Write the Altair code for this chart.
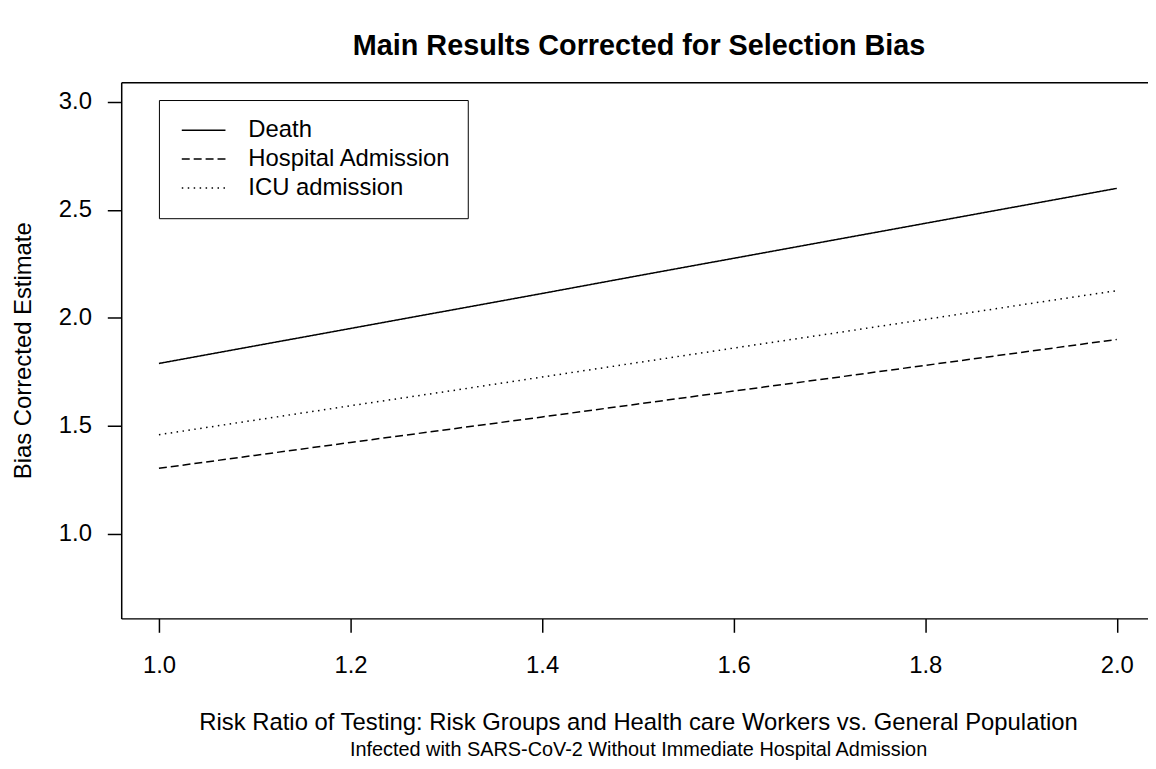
import altair as alt
import pandas as pd

# Data
risk_ratio = [1.0, 1.1, 1.2, 1.3, 1.4, 1.5, 1.6, 1.7, 1.8, 1.9, 2.0]
death = [1.789, 1.870, 1.951, 2.032, 2.113, 2.195, 2.276, 2.357, 2.438, 2.519, 2.600]
hospital = [1.303, 1.363, 1.423, 1.482, 1.541, 1.601, 1.661, 1.720, 1.780, 1.840, 1.900]
icu = [1.459, 1.526, 1.593, 1.659, 1.726, 1.793, 1.860, 1.926, 1.993, 2.060, 2.126]

series_names = ["Death", "Hospital Admission", "ICU admission"]
series_values = [death, hospital, icu]
x_ticks = [1.0, 1.2, 1.4, 1.6, 1.8, 2.0]
y_ticks = [1.0, 1.5, 2.0, 2.5, 3.0]

rows = []
for name, vals in zip(series_names, series_values):
    for x, v in zip(risk_ratio, vals):
        rows.append({"rr": x, "est": v, "outcome": name})
df = pd.DataFrame(rows)

FONT = "Arial, Liberation Sans, sans-serif"
x_scale = alt.Scale(domain=[0.9606, 2.0326], nice=False, zero=False)
y_scale = alt.Scale(domain=[0.608, 3.092], nice=False, zero=False)

lines = alt.Chart(df).mark_line(color="black", strokeWidth=1.5).encode(
    x=alt.X("rr:Q", scale=x_scale,
            axis=alt.Axis(values=x_ticks, format=".1f", title=None, grid=False,
                          tickSize=14, labelPadding=21, labelFontSize=24,
                          domainColor="black", tickColor="black", labelColor="black",
                          domainWidth=1.5, tickWidth=1.5, labelFont=FONT)),
    y=alt.Y("est:Q", scale=y_scale,
            axis=alt.Axis(values=y_ticks, format=".1f", title="Bias Corrected Estimate",
                          grid=False, tickSize=14, labelPadding=16, labelFontSize=24,
                          domainColor="black", tickColor="black", labelColor="black",
                          domainWidth=1.5, tickWidth=1.5, labelFont=FONT,
                          titleFontSize=24, titleFontWeight="normal", titleColor="black",
                          titleFont=FONT, titleX=-91, titleY=270, titleAngle=270,
                          titleBaseline="alphabetic", titleAlign="center")),
    strokeDash=alt.StrokeDash(
        "outcome:N",
        scale=alt.Scale(domain=series_names, range=[[1, 0], [8, 4], [1.5, 4.5]]),
        legend=alt.Legend(title=None, orient="none", legendX=38, legendY=18,
                          strokeColor="black", fillColor="white", padding=16,
                          symbolType="stroke", symbolSize=1936, symbolStrokeWidth=1.5,
                          symbolStrokeColor="black", symbolOffset=6,
                          labelFontSize=24, labelOffset=22, clipHeight=29,
                          rowPadding=0, labelColor="black", labelFont=FONT,
                          labelLimit=400)),
    detail="outcome:N",
)

top_axis = alt.Chart(df).mark_rule(opacity=0).encode(
    x=alt.X("rr:Q", scale=x_scale,
            axis=alt.Axis(orient="top", labels=False, ticks=False, grid=False,
                          domainColor="black", domainWidth=1.5,
                          title="Main Results Corrected for Selection Bias",
                          titleFontSize=29, titleFontWeight="bold", titleColor="black",
                          titleFont=FONT, titleX=521, titleY=-28,
                          titleBaseline="alphabetic", titleAlign="center")),
)

chart = alt.layer(lines, top_axis).resolve_axis(x="independent").properties(
    width=1034,
    height=540,
    autosize=alt.AutoSizeParams(type="none"),
    padding={"left": 114, "top": 72, "right": 0, "bottom": 148},
    title=alt.TitleParams(
        text="Risk Ratio of Testing: Risk Groups and Health care Workers vs. General Population",
        subtitle="Infected with SARS-CoV-2 Without Immediate Hospital Admission",
        orient="bottom", anchor="middle", frame="group",
        fontSize=24, fontWeight="normal", font=FONT, color="black",
        subtitleFontSize=20, subtitleFont=FONT, subtitleColor="black",
        subtitlePadding=6, offset=34, dx=4,
    ),
).configure_view(stroke=None).configure(background="white")

chart.save("out.html", embed_options={"renderer": "svg", "actions": False})
